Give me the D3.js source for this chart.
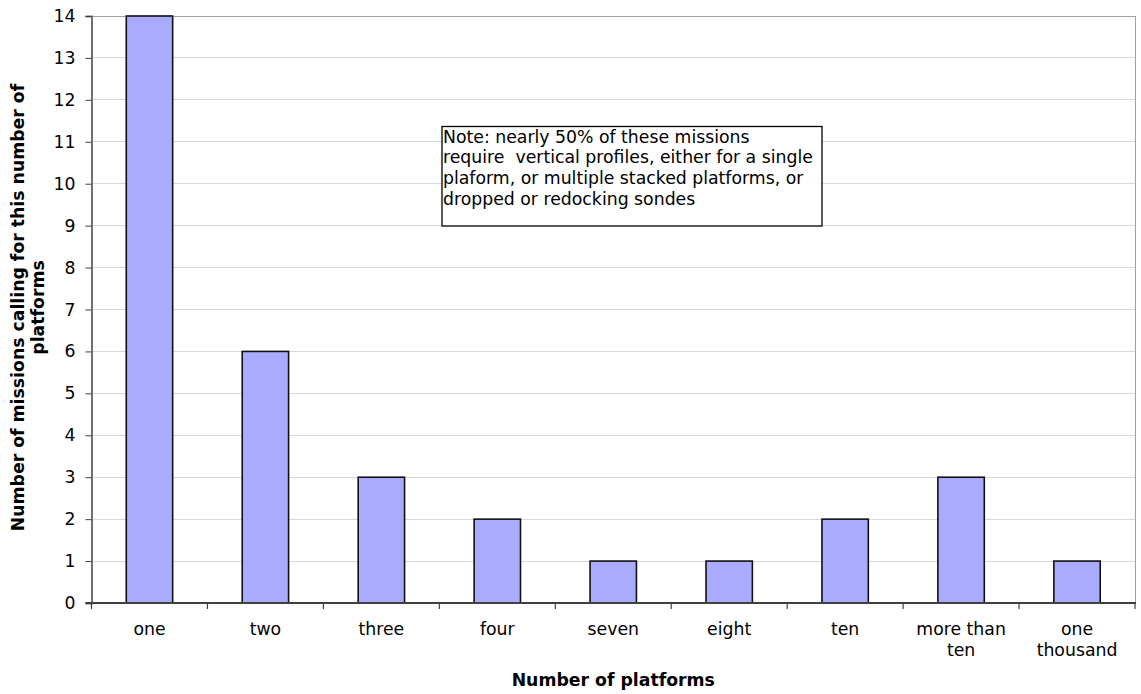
<!DOCTYPE html>
<html>
<head>
<meta charset="utf-8">
<script src="https://cdn.jsdelivr.net/npm/d3@7"></script>
<style>
  html, body { margin: 0; padding: 0; background: #fff; }
  svg { display: block; font-family: "DejaVu Sans", Verdana, sans-serif; }
</style>
</head>
<body>
<svg id="chart" width="1141" height="694"></svg>
<script>
// Mission counts per requested platform count
const categories = ["one", "two", "three", "four", "seven", "eight", "ten", "more than ten", "one thousand"];
const missions = [14, 6, 3, 2, 1, 1, 2, 3, 1];
const yTicks = [0, 1, 2, 3, 4, 5, 6, 7, 8, 9, 10, 11, 12, 13, 14];
const noteLines = [
  "Note: nearly 50% of these missions",
  "require  vertical profiles, either for a single",
  "plaform, or multiple stacked platforms, or",
  "dropped or redocking sondes"
];

const FS = 17.3;
const svg = d3.select("#chart");
const plot = { left: 91.5, top: 16, right: 1135, bottom: 603 };

const x = d3.scaleBand()
  .domain(categories)
  .range([plot.left, plot.right])
  .paddingInner(0.6)
  .paddingOuter(0.3);

const bandStep = x.step();

const y = d3.scaleLinear()
  .domain([0, 14])
  .range([plot.bottom, plot.top]);

// Gridlines
svg.append("g")
  .selectAll("line")
  .data(yTicks.filter(d => d > 0))
  .join("line")
  .attr("x1", plot.left).attr("x2", plot.right)
  .attr("y1", d => y(d)).attr("y2", d => y(d))
  .attr("stroke", d => d === 14 ? "#a0a0a0" : "#d8d8d8")
  .attr("stroke-width", 1)
  .attr("shape-rendering", "crispEdges");

// Right border of the plot area
svg.append("line")
  .attr("x1", plot.right).attr("x2", plot.right)
  .attr("y1", plot.top).attr("y2", plot.bottom)
  .attr("stroke", "#a0a0a0")
  .attr("shape-rendering", "crispEdges");

// Bars
svg.append("g")
  .selectAll("rect")
  .data(categories)
  .join("rect")
  .attr("x", d => x(d))
  .attr("width", x.bandwidth())
  .attr("y", (d, i) => y(missions[i]))
  .attr("height", (d, i) => y(0) - y(missions[i]))
  .attr("fill", "#aaaaff")
  .attr("stroke", "#111")
  .attr("stroke-width", 1.6);

// Y axis
const yAxis = d3.axisLeft(y).tickValues(yTicks).tickSize(6).tickPadding(10).tickFormat(d3.format("d"));
const gy = svg.append("g")
  .attr("transform", `translate(${plot.left},0)`)
  .call(yAxis);
gy.select(".domain").attr("stroke", "#707070").attr("stroke-width", 2);
gy.selectAll(".tick line").attr("stroke", "#404040");
gy.selectAll("text").attr("font-size", FS).attr("fill", "#000")
  .attr("font-family", "\"DejaVu Sans\", Verdana, sans-serif");

// X axis: line plus ticks at category boundaries
svg.append("line")
  .attr("x1", plot.left - 6).attr("x2", plot.right + 1)
  .attr("y1", plot.bottom).attr("y2", plot.bottom)
  .attr("stroke", "#404040").attr("stroke-width", 2);

svg.append("g")
  .selectAll("line")
  .data(d3.range(categories.length + 1))
  .join("line")
  .attr("x1", i => plot.left + i * bandStep)
  .attr("x2", i => plot.left + i * bandStep)
  .attr("y1", plot.bottom).attr("y2", plot.bottom + 6)
  .attr("stroke", "#404040").attr("stroke-width", 1.2);

// Category labels (wrapped for longer names)
const wrapLabel = { "more than ten": ["more than", "ten"], "one thousand": ["one", "thousand"] };
const xl = svg.append("g")
  .selectAll("text")
  .data(categories)
  .join("text")
  .attr("x", d => x(d) + x.bandwidth() / 2)
  .attr("y", 635)
  .attr("text-anchor", "middle")
  .attr("font-size", FS)
  .attr("fill", "#000");
xl.each(function(d) {
  const lines = wrapLabel[d] || [d];
  d3.select(this).selectAll("tspan")
    .data(lines)
    .join("tspan")
    .attr("x", x(d) + x.bandwidth() / 2)
    .attr("dy", (l, i) => i === 0 ? 0 : 20.6)
    .text(l => l);
});

// Axis titles
svg.append("text")
  .attr("x", (plot.left + plot.right) / 2)
  .attr("y", 686)
  .attr("text-anchor", "middle")
  .attr("font-size", FS)
  .attr("font-weight", "bold")
  .text("Number of platforms");

const yTitle = svg.append("text")
  .attr("transform", `translate(24,307.5) rotate(-90)`)
  .attr("text-anchor", "middle")
  .attr("font-size", FS)
  .attr("font-weight", "bold");
yTitle.append("tspan").attr("x", 0).attr("dy", 0).text("Number of missions calling for this number of");
yTitle.append("tspan").attr("x", 0).attr("dy", 20).text("platforms");

// Note box
const note = svg.append("g");
note.append("rect")
  .attr("x", 442).attr("y", 126.5)
  .attr("width", 380).attr("height", 99.5)
  .attr("fill", "#fff")
  .attr("stroke", "#000")
  .attr("stroke-width", 1.3);
note.append("text")
  .attr("font-size", FS)
  .attr("fill", "#000")
  .style("white-space", "pre")
  .selectAll("tspan")
  .data(noteLines)
  .join("tspan")
  .attr("x", 443)
  .attr("y", (d, i) => 142.5 + i * 20.8)
  .text(d => d);
</script>
</body>
</html>
